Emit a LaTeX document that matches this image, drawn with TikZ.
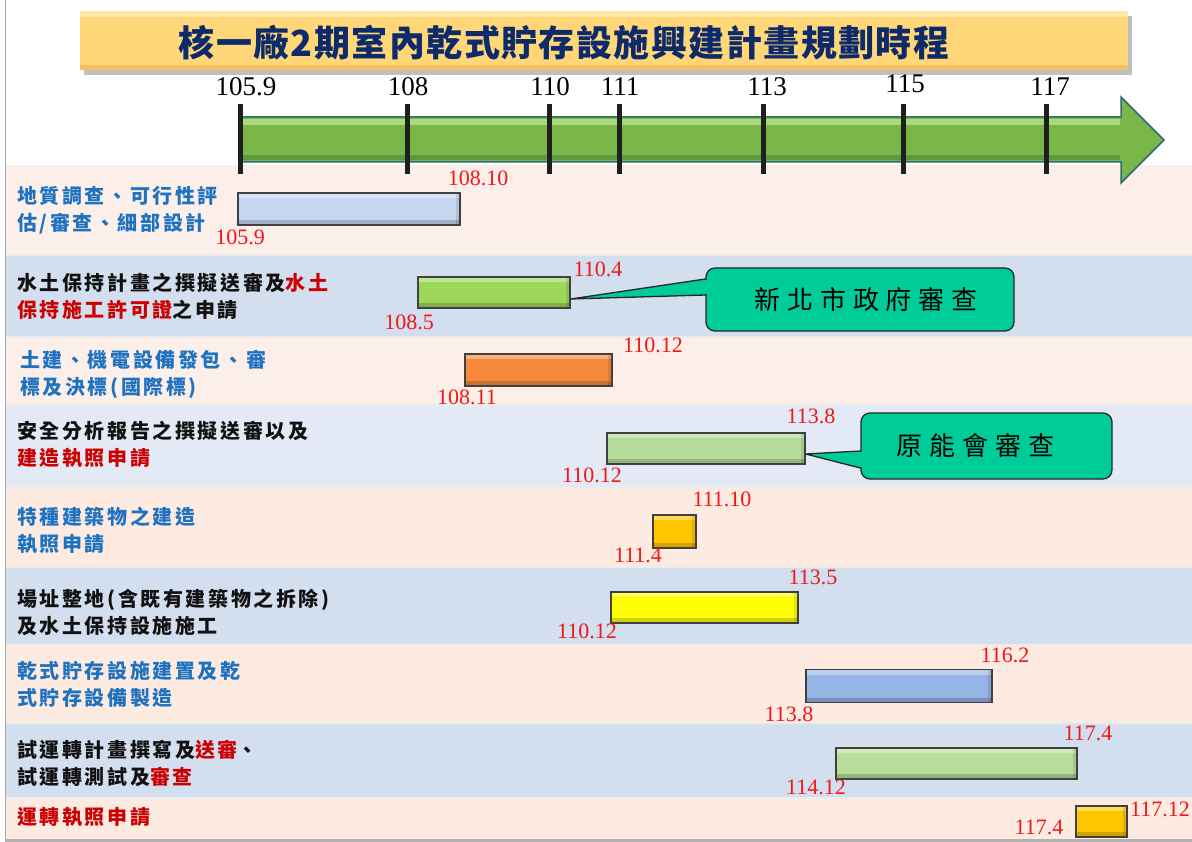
\documentclass[tikz,border=0pt]{standalone}
\usepackage{fontspec}
\setmainfont{Liberation Serif}
\newfontfamily\cjk{Noto Sans CJK TC}[LetterSpace=13]
\newfontfamily\cjkcall{Noto Sans CJK TC}[LetterSpace=26]
\newfontfamily\cjktitle{Noto Sans CJK TC}[LetterSpace=4]
\usetikzlibrary{calc}
\definecolor{rowpeach}{HTML}{FCEFEA}
\definecolor{rowpeachb}{HTML}{FDEBE2}
\definecolor{rowblue}{HTML}{D3DEEF}
\definecolor{rowbluel}{HTML}{E4EAF5}
\definecolor{lblblue}{HTML}{1E72C0}
\definecolor{lblred}{HTML}{CC0000}
\definecolor{lblblack}{HTML}{111111}
\definecolor{datered}{HTML}{F01818}
\definecolor{titlenavy}{HTML}{0D2A6A}
\definecolor{titlefill}{HTML}{FFD778}
\definecolor{titletop}{HTML}{FFE9A8}
\definecolor{titlebot}{HTML}{F2C060}
\definecolor{arrowgreen}{HTML}{7AB648}
\definecolor{arrowhi}{HTML}{A8DA7C}
\definecolor{arrowlo}{HTML}{5E9A3A}
\definecolor{arrowedge}{HTML}{2E6B78}
\definecolor{callgreen}{HTML}{00CC99}
\definecolor{cbA}{HTML}{C5D7F0}
\definecolor{cbB}{HTML}{9DD75A}
\definecolor{cbC}{HTML}{F68A3A}
\definecolor{cbD}{HTML}{B5DC98}
\definecolor{cbE}{HTML}{FFC600}
\definecolor{cbF}{HTML}{FFFF00}
\definecolor{cbG}{HTML}{97B4E6}
\definecolor{cbH}{HTML}{B7DE9B}
\begin{document}
\begin{tikzpicture}[x=1pt,y=-1pt,
  lbl/.style={anchor=west, align=left, inner sep=0pt, font=\cjk\bfseries\fontsize{20}{27}\selectfont},
  datelbl/.style={inner sep=0pt, text=datered, font=\fontsize{22}{24}\selectfont},
  ticklbl/.style={inner sep=0pt, text=black, font=\fontsize{27}{29}\selectfont},
  tickline/.style={draw=black!88, line width=5pt},
  bar/.style={draw=black!75, line width=1.4pt, inner sep=0pt,
    path picture={
      \fill[white, opacity=0.35] (path picture bounding box.north west) rectangle ([yshift=-5pt]path picture bounding box.north east);
      \fill[black, opacity=0.18] (path picture bounding box.south west) rectangle ([yshift=5pt]path picture bounding box.south east);
      \fill[black, opacity=0.10] (path picture bounding box.north east) rectangle ([xshift=-4pt]path picture bounding box.south east);
    }},
  callout/.style={fill=callgreen, draw=black!85, line width=1.3pt, rounded corners=9pt, inner sep=0pt,
    font=\cjkcall\fontsize{26}{30}\selectfont},
  pointer/.style={fill=callgreen, draw=black!85, line width=1.3pt, line join=round},
  sepline/.style={draw=white!85!gray, line width=1.2pt}
]
\useasboundingbox (0,0) rectangle (1192,842);
\fill[white] (0,0) rectangle (1192,842);
% row backgrounds
\fill[rowpeach]  (6,165) rectangle (1192,255);
\fill[rowblue]   (6,255) rectangle (1192,337);
\fill[rowpeach]  (6,337) rectangle (1192,405);
\fill[rowbluel]  (6,405) rectangle (1192,487);
\fill[rowpeachb] (6,487) rectangle (1192,567);
\fill[rowblue]   (6,567) rectangle (1192,645);
\fill[rowpeachb] (6,645) rectangle (1192,723);
\fill[rowblue]   (6,723) rectangle (1192,798);
\fill[rowpeachb] (6,798) rectangle (1192,839);
\foreach \yy in {255,337,405,487,567,645,723,798} {\draw[sepline] (6,\yy) -- (1192,\yy);}
\draw[gray!70, line width=1.5pt] (5.5,0) -- (5.5,842);
\fill[gray!60] (5,839) rectangle (1192,842);
% title
\fill[black, opacity=0.25] (84,16) rectangle (1132,75);
\node[inner sep=0pt, minimum width=1048pt, minimum height=59pt, fill=titlefill,
  path picture={
    \fill[titletop] (path picture bounding box.north west) rectangle ([yshift=-6pt]path picture bounding box.north east);
    \fill[titlebot] (path picture bounding box.south west) rectangle ([yshift=5pt]path picture bounding box.south east);
  }] (titlebox) at (604,41) {};
\node[inner sep=0pt, text=titlenavy, font=\cjktitle\bfseries\fontsize{36}{38}\selectfont] (title) at (564,43) {核一廠2期室內乾式貯存設施興建計畫規劃時程};
% timeline arrow
\filldraw[fill=arrowgreen, draw=arrowedge, line width=1.5pt, line join=miter]
  (240,117) -- (1121,117) -- (1121,97) -- (1164,140) -- (1121,183) -- (1121,162) -- (240,162) -- cycle;
\fill[arrowhi] (241.5,119) rectangle (1119.5,125);
\fill[arrowlo] (241.5,155) rectangle (1119.5,160.5);
% ticks
\foreach \xx in {240,407,549,619,763,903,1046} {\draw[tickline] (\xx,104) -- (\xx,174);}
\node[ticklbl] (tk1) at (246,87) {105.9};
\node[ticklbl] (tk2) at (408,87) {108};
\node[ticklbl] (tk3) at (550,87) {110};
\node[ticklbl] (tk4) at (620,87) {111};
\node[ticklbl] (tk5) at (767,87) {113};
\node[ticklbl] (tk6) at (905,84) {115};
\node[ticklbl] (tk7) at (1050,87) {117};
% row labels
\node[lbl, text=lblblue] (l1) at (17,210.5) {地質調查、可行性評\\估/審查、細部設計};
\node[lbl, text=lblblack] (l2) at (17,296) {水土保持計畫之撰擬送審及\textcolor{lblred}{水土}\\\textcolor{lblred}{保持施工許可證}之申請};
\node[lbl, text=lblblue] (l3) at (20,374) {土建、機電設備發包、審\\標及決標(國際標)};
\node[lbl, text=lblblack] (l4) at (17,444.5) {安全分析報告之撰擬送審以及\\\textcolor{lblred}{建造執照申請}};
\node[lbl, text=lblblue] (l5) at (17,530.5) {特種建築物之建造\\執照申請};
\node[lbl, text=lblblack] (l6) at (17,612.5) {場址整地(含既有建築物之拆除)\\及水土保持設施施工};
\node[lbl, text=lblblue] (l7) at (17,684.5) {乾式貯存設施建置及乾\\式貯存設備製造};
\node[lbl, text=lblblack] (l8) at (17,763) {試運轉計畫撰寫及\textcolor{lblred}{送審}、\\試運轉測試及\textcolor{lblred}{審查}};
\node[lbl, text=lblred] (l9) at (17,817) {運轉執照申請};
% bars
\node[bar, fill=cbA, minimum width=222pt, minimum height=32pt] (b1) at (349,209) {};
\node[bar, fill=cbB, minimum width=152pt, minimum height=31pt] (b2) at (494,292.5) {};
\node[bar, fill=cbC, minimum width=147pt, minimum height=32pt] (b3) at (538.5,370) {};
\node[bar, fill=cbD, minimum width=198pt, minimum height=31pt] (b4) at (706,448.5) {};
\node[bar, fill=cbE, minimum width=43pt, minimum height=33pt] (b5) at (674.5,531.5) {};
\node[bar, fill=cbF, minimum width=187pt, minimum height=31pt] (b6) at (704.5,607.5) {};
\node[bar, fill=cbG, minimum width=186pt, minimum height=33pt] (b7) at (899,686) {};
\node[bar, fill=cbH, minimum width=241pt, minimum height=31pt] (b8) at (956.5,763.5) {};
\node[bar, fill=cbE, minimum width=51pt, minimum height=31pt] (b9) at (1101.5,821.5) {};
% date labels
\node[datelbl] (d1e) at (478,178) {108.10};
\node[datelbl] (d1s) at (240,237) {105.9};
\node[datelbl] (d2e) at (598,269) {110.4};
\node[datelbl] (d2s) at (409,322) {108.5};
\node[datelbl] (d3e) at (653,345) {110.12};
\node[datelbl] (d3s) at (467,397) {108.11};
\node[datelbl] (d4e) at (811,416) {113.8};
\node[datelbl] (d4s) at (592,475) {110.12};
\node[datelbl] (d5e) at (722,499) {111.10};
\node[datelbl] (d5s) at (638,555) {111.4};
\node[datelbl] (d6e) at (813,577) {113.5};
\node[datelbl] (d6s) at (587,631) {110.12};
\node[datelbl] (d7e) at (1005,655) {116.2};
\node[datelbl] (d7s) at (789,714) {113.8};
\node[datelbl] (d8e) at (1088,733) {117.4};
\node[datelbl] (d8s) at (816,787) {114.12};
\node[datelbl] (d9e) at (1160,809) {117.12};
\node[datelbl] (d9s) at (1039,827) {117.4};
% callouts
\node[callout, minimum width=308pt, minimum height=63pt] (c1) at (860,299.5) {\hspace*{12pt}新北市政府審查};
\filldraw[pointer] ([yshift=-6.5pt]b2.east) -- ([yshift=20.5pt]c1.west) -- ([yshift=4.5pt]c1.west) -- cycle;
\fill[callgreen] ([xshift=-1.2pt,yshift=-0.9pt]$(c1.west)+(0,-20.5)$) rectangle ([xshift=1.6pt,yshift=0.9pt]$(c1.west)+(0,-4.5)$);
\node[callout, minimum width=251pt, minimum height=66pt] (c2) at (986.5,446) {\hspace*{-22pt}原能會審查};
\filldraw[pointer] ([yshift=-5.5pt]b4.east) -- ([yshift=-5pt]c2.west) -- ([yshift=-22pt]c2.west) -- cycle;
\fill[callgreen] ([xshift=-1.2pt,yshift=-0.9pt]$(c2.west)+(0,5)$) rectangle ([xshift=1.6pt,yshift=0.9pt]$(c2.west)+(0,22)$);
\end{tikzpicture}
\end{document}
